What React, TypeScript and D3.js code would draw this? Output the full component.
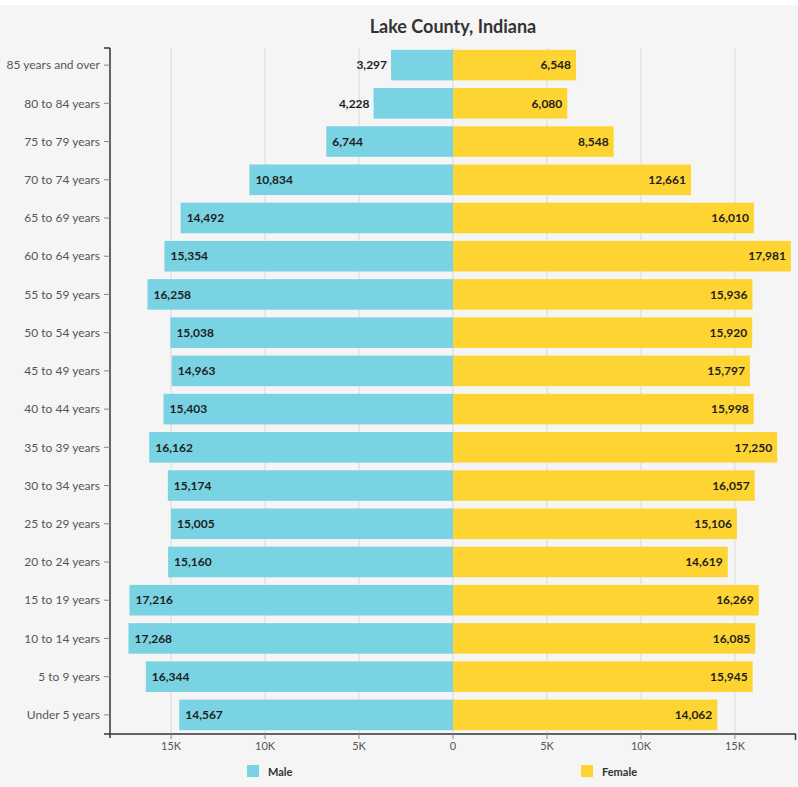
import React from "react";
import * as d3 from "d3";

// Lake County, Indiana population by age group and sex
const ageGroups: string[] = [
  "85 years and over",
  "80 to 84 years",
  "75 to 79 years",
  "70 to 74 years",
  "65 to 69 years",
  "60 to 64 years",
  "55 to 59 years",
  "50 to 54 years",
  "45 to 49 years",
  "40 to 44 years",
  "35 to 39 years",
  "30 to 34 years",
  "25 to 29 years",
  "20 to 24 years",
  "15 to 19 years",
  "10 to 14 years",
  "5 to 9 years",
  "Under 5 years",
];

const maleValues: number[] = [
  3297, 4228, 6744, 10834, 14492, 15354, 16258, 15038, 14963, 15403, 16162,
  15174, 15005, 15160, 17216, 17268, 16344, 14567,
];

const femaleValues: number[] = [
  6548, 6080, 8548, 12661, 16010, 17981, 15936, 15920, 15797, 15998, 17250,
  16057, 15106, 14619, 16269, 16085, 15945, 14062,
];

const xTickValues: number[] = [-15000, -10000, -5000, 0, 5000, 10000, 15000];
const seriesNames: string[] = ["Male", "Female"];

const W = 798;
const H = 787;
const FONT = "Lato, 'Open Sans', sans-serif";
const MALE_COLOR = "#79d3e2";
const FEMALE_COLOR = "#fed432";

export default function App() {
  const margin = { left: 110, right: 2, top: 46, bottom: 53 };
  const maxVal = d3.max([...maleValues, ...femaleValues]) as number;
  const extent = maxVal * 1.015;

  const x = d3
    .scaleLinear()
    .domain([-extent, extent])
    .range([margin.left, W - margin.right]);
  const y = d3
    .scaleBand<string>()
    .domain(ageGroups)
    .range([margin.top, H - margin.bottom])
    .paddingInner(0.2)
    .paddingOuter(0.1);

  const x0 = x(0);
  const yTop = 48;
  const yBottom = H - margin.bottom;
  const fmt = d3.format(",");
  const tickFmt = (v: number) => (v === 0 ? "0" : `${Math.abs(v) / 1000}K`);

  return (
    <div style={{ position: "absolute", left: 0, top: 0, width: W, height: H }}>
      <svg width={W} height={H} style={{ display: "block", fontFamily: FONT }}>
        <rect x={0} y={0} width={W} height={H} fill="#f5f5f5" />
        <rect x={0} y={0} width={W} height={5} fill="#ffffff" />

        <text
          x={x0}
          y={33}
          textAnchor="middle"
          fontSize={18}
          fontWeight={700}
          fill="#333"
        >
          Lake County, Indiana
        </text>

        {/* vertical grid */}
        {xTickValues.map((t) => (
          <line
            key={`g${t}`}
            x1={x(t)}
            x2={x(t)}
            y1={yTop}
            y2={yBottom}
            stroke="#d9d9d9"
            strokeWidth={1}
          />
        ))}

        {/* male bars */}
        {ageGroups.map((g, i) => (
          <rect
            key={`m${g}`}
            x={x(-maleValues[i])}
            y={y(g)}
            width={x0 - x(-maleValues[i])}
            height={y.bandwidth()}
            fill={MALE_COLOR}
          />
        ))}
        {/* female bars */}
        {ageGroups.map((g, i) => (
          <rect
            key={`f${g}`}
            x={x0}
            y={y(g)}
            width={x(femaleValues[i]) - x0}
            height={y.bandwidth()}
            fill={FEMALE_COLOR}
          />
        ))}

        {/* value labels */}
        {ageGroups.map((g, i) => {
          const v = maleValues[i];
          const inside = v >= 5000;
          const cy = (y(g) as number) + y.bandwidth() / 2;
          return (
            <text
              key={`ml${g}`}
              x={inside ? x(-v) + 6 : x(-v) - 4}
              y={cy}
              dy="0.35em"
              textAnchor={inside ? "start" : "end"}
              fontSize={12}
              fontWeight={700}
              fill="#1e1e1e"
            >
              {fmt(v)}
            </text>
          );
        })}
        {ageGroups.map((g, i) => {
          const v = femaleValues[i];
          const cy = (y(g) as number) + y.bandwidth() / 2;
          return (
            <text
              key={`fl${g}`}
              x={x(v) - 5}
              y={cy}
              dy="0.35em"
              textAnchor="end"
              fontSize={12}
              fontWeight={700}
              fill="#1e1e1e"
            >
              {fmt(v)}
            </text>
          );
        })}

        {/* y axis */}
        <line
          x1={margin.left}
          x2={margin.left}
          y1={yTop}
          y2={yBottom + 4}
          stroke="#333"
          strokeWidth={1.5}
        />
        <line
          x1={margin.left - 6}
          x2={margin.left}
          y1={yTop}
          y2={yTop}
          stroke="#333"
          strokeWidth={1.5}
        />
        {ageGroups.map((g) => {
          const cy = (y(g) as number) + y.bandwidth() / 2;
          return (
            <g key={`yt${g}`}>
              <line
                x1={margin.left - 6}
                x2={margin.left}
                y1={cy}
                y2={cy}
                stroke="#888"
                strokeWidth={1}
              />
              <text
                x={margin.left - 10}
                y={cy}
                dy="0.35em"
                textAnchor="end"
                fontSize={12}
                fill="#555"
              >
                {g}
              </text>
            </g>
          );
        })}

        {/* x axis */}
        <line
          x1={margin.left - 6}
          x2={W - margin.right}
          y1={yBottom}
          y2={yBottom}
          stroke="#333"
          strokeWidth={1.5}
        />
        <line
          x1={W - margin.right - 0.5}
          x2={W - margin.right - 0.5}
          y1={yBottom}
          y2={yBottom + 6}
          stroke="#333"
          strokeWidth={1.5}
        />
        {xTickValues.map((t) => (
          <g key={`xt${t}`}>
            <line
              x1={x(t)}
              x2={x(t)}
              y1={yBottom}
              y2={yBottom + 5}
              stroke="#888"
              strokeWidth={1}
            />
            <text
              x={x(t)}
              y={yBottom + 16}
              textAnchor="middle"
              fontSize={11}
              fill="#555"
            >
              {tickFmt(t)}
            </text>
          </g>
        ))}

        {/* legend */}
        {seriesNames.map((name, i) => {
          const lx = i === 0 ? 247 : 581;
          return (
            <g key={`lg${name}`}>
              <rect
                x={lx}
                y={765}
                width={12}
                height={12}
                fill={i === 0 ? MALE_COLOR : FEMALE_COLOR}
              />
              <text
                x={lx + 21}
                y={772}
                dy="0.35em"
                fontSize={11}
                fontWeight={700}
                fill="#333"
              >
                {name}
              </text>
            </g>
          );
        })}
      </svg>
    </div>
  );
}
